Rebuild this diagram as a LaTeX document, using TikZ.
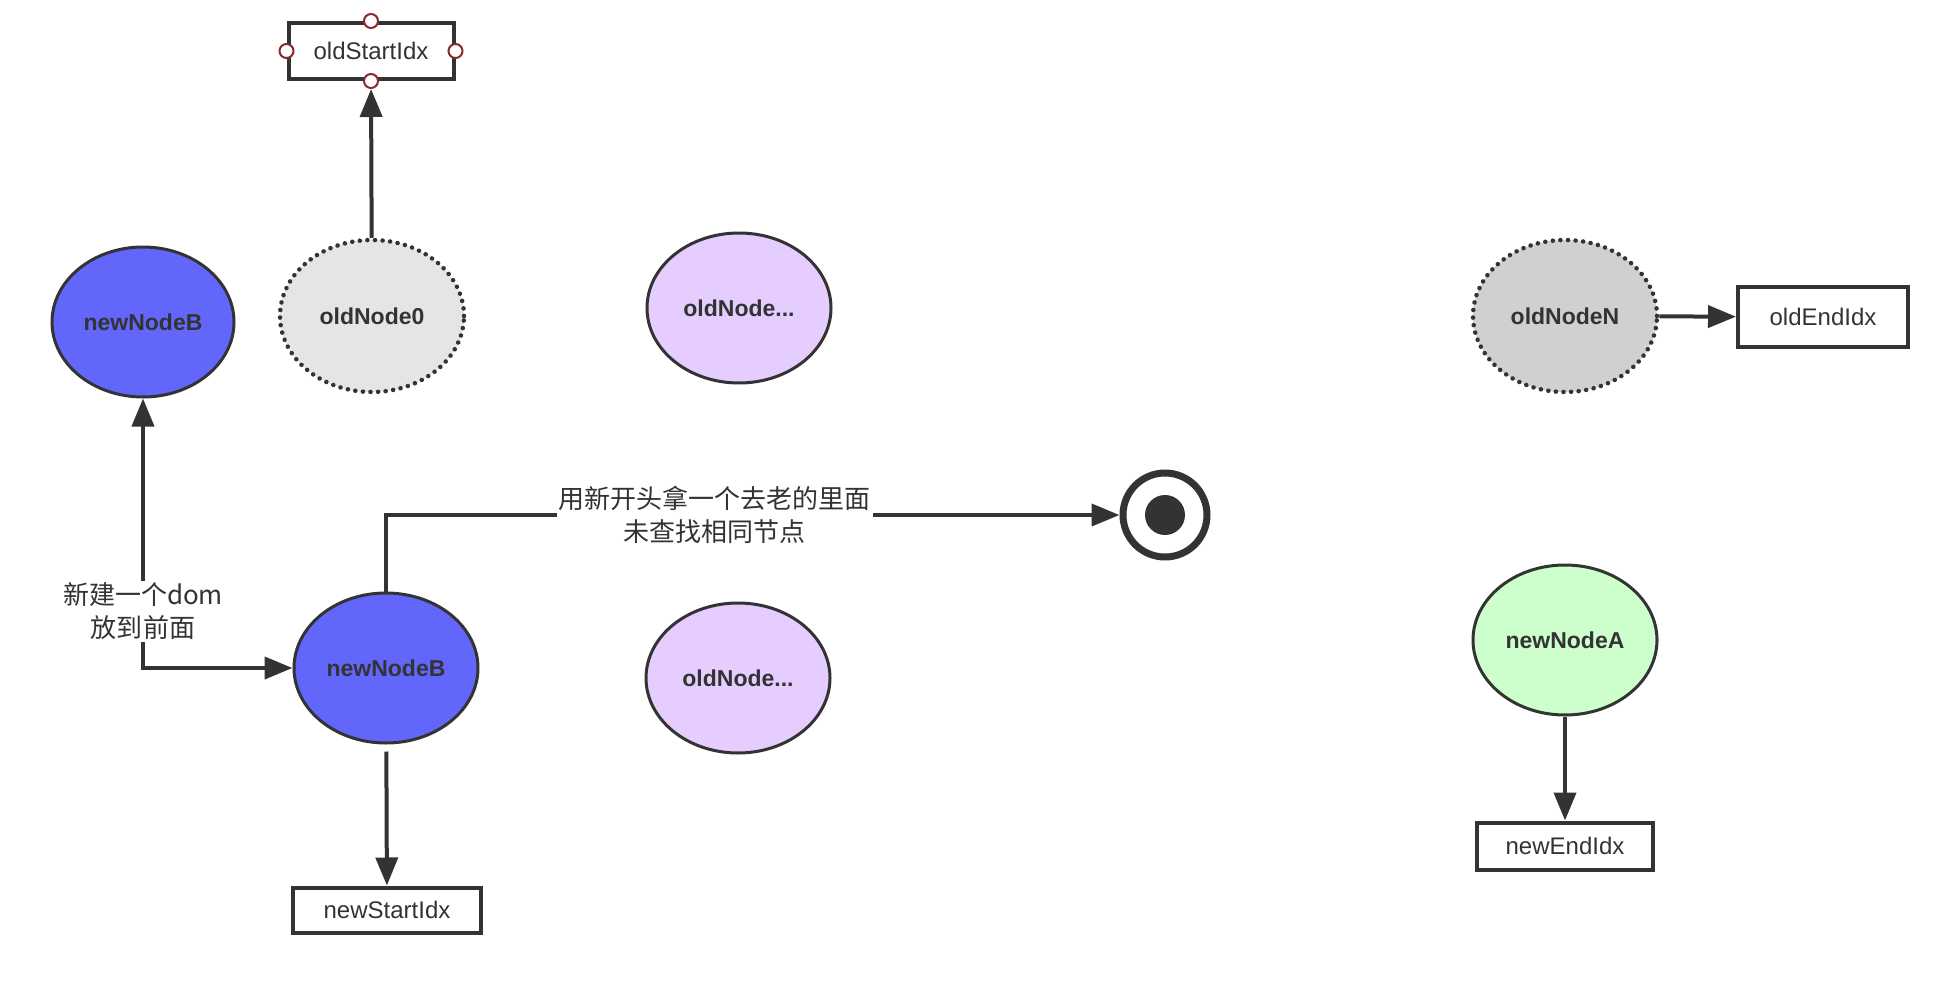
\documentclass[tikz,border=0pt]{standalone}
\usepackage{fontspec}
\setmainfont{Liberation Sans}
\newfontfamily\cjk{Noto Sans CJK SC}
\usetikzlibrary{shapes.geometric,arrows.meta,calc}
\definecolor{ink}{RGB}{51,51,51}
\definecolor{pinred}{RGB}{140,40,45}
\definecolor{bluefill}{RGB}{99,102,250}
\definecolor{purplefill}{RGB}{229,206,255}
\definecolor{greenfill}{RGB}{204,255,204}
\definecolor{lightgrey}{RGB}{229,229,229}
\definecolor{midgrey}{RGB}{208,208,208}
\tikzset{
  ell/.style={ellipse, draw=ink, line width=3pt, minimum width=184pt, minimum height=150pt, inner sep=0pt,
    font=\fontsize{23}{27}\selectfont\bfseries, text=ink},
  dotell/.style={ell, line width=4.5pt, dash pattern=on 0.1pt off 7.5pt, line cap=round},
  idxbox/.style={rectangle, draw=ink, line width=4pt, fill=white, inner sep=0pt,
    font=\fontsize{24}{28}\selectfont, text=ink},
  pin/.style={circle, draw=pinred, line width=2pt, fill=white, minimum size=14pt, inner sep=0pt},
  conn/.style={draw=ink, line width=4pt, -{Triangle[length=28pt,width=22pt]}},
  biconn/.style={draw=ink, line width=4pt, {Triangle[length=28pt,width=22pt]}-{Triangle[length=28pt,width=22pt]}},
  lbl/.style={fill=white, align=center, inner sep=2pt, text=ink, font=\cjk\fontsize{26}{33}\selectfont},
}
\begin{document}
\begin{tikzpicture}[x=1pt,y=-1pt]
\useasboundingbox (0,0) rectangle (1938,1006);

% index boxes
\node[idxbox, minimum width=165pt, minimum height=56pt] (oldStart) at (371,51) {oldStartIdx};
\node[pin] (pt) at (oldStart.north) {};
\node[pin] (pl) at (oldStart.west) {};
\node[pin] (pr) at (oldStart.east) {};
\node[pin] (pb) at (oldStart.south) {};
\node[idxbox, minimum width=170pt, minimum height=60pt] (oldEnd) at (1823,317) {oldEndIdx};
\node[idxbox, minimum width=176pt, minimum height=47pt] (newEnd) at (1565,846) {newEndIdx};
\node[idxbox, minimum width=188pt, minimum height=45pt] (newStart) at (387,910) {newStartIdx};

% ellipses
\node[ell, fill=bluefill, minimum width=182pt] (nB1) at (143,322) {newNodeB};
\node[dotell, fill=lightgrey, minimum height=152pt] (o0) at (372,316) {oldNode0};
\node[ell, fill=purplefill] (od1) at (739,308) {oldNode...};
\node[dotell, fill=midgrey, minimum height=152pt] (oN) at (1565,316) {oldNodeN};
\node[ell, fill=bluefill] (nB2) at (386,668) {newNodeB};
\node[ell, fill=purplefill] (od2) at (738,678) {oldNode...};
\node[ell, fill=greenfill] (nA) at (1565,640) {newNodeA};

% end marker
\node[circle, draw=ink, line width=7pt, minimum size=84pt, inner sep=0pt] (endc) at (1165,515) {};
\fill[ink] (endc.center) circle (20pt);

% connectors
\draw[conn] (o0) -- (pb);
\draw[conn] (oN) -- (oldEnd);
\draw[conn] (nA) -- (newEnd);
\draw[conn, shorten <=7pt] (nB2) -- (newStart);
\draw[biconn] (nB1.south) |- (nB2.west)
  node[lbl, pos=0.395] {新建一个dom\\放到前面};
\draw[conn] (nB2.north) |- (endc.west)
  node[lbl, pos=0.724] {用新开头拿一个去老的里面\\未查找相同节点};
\end{tikzpicture}
\end{document}
